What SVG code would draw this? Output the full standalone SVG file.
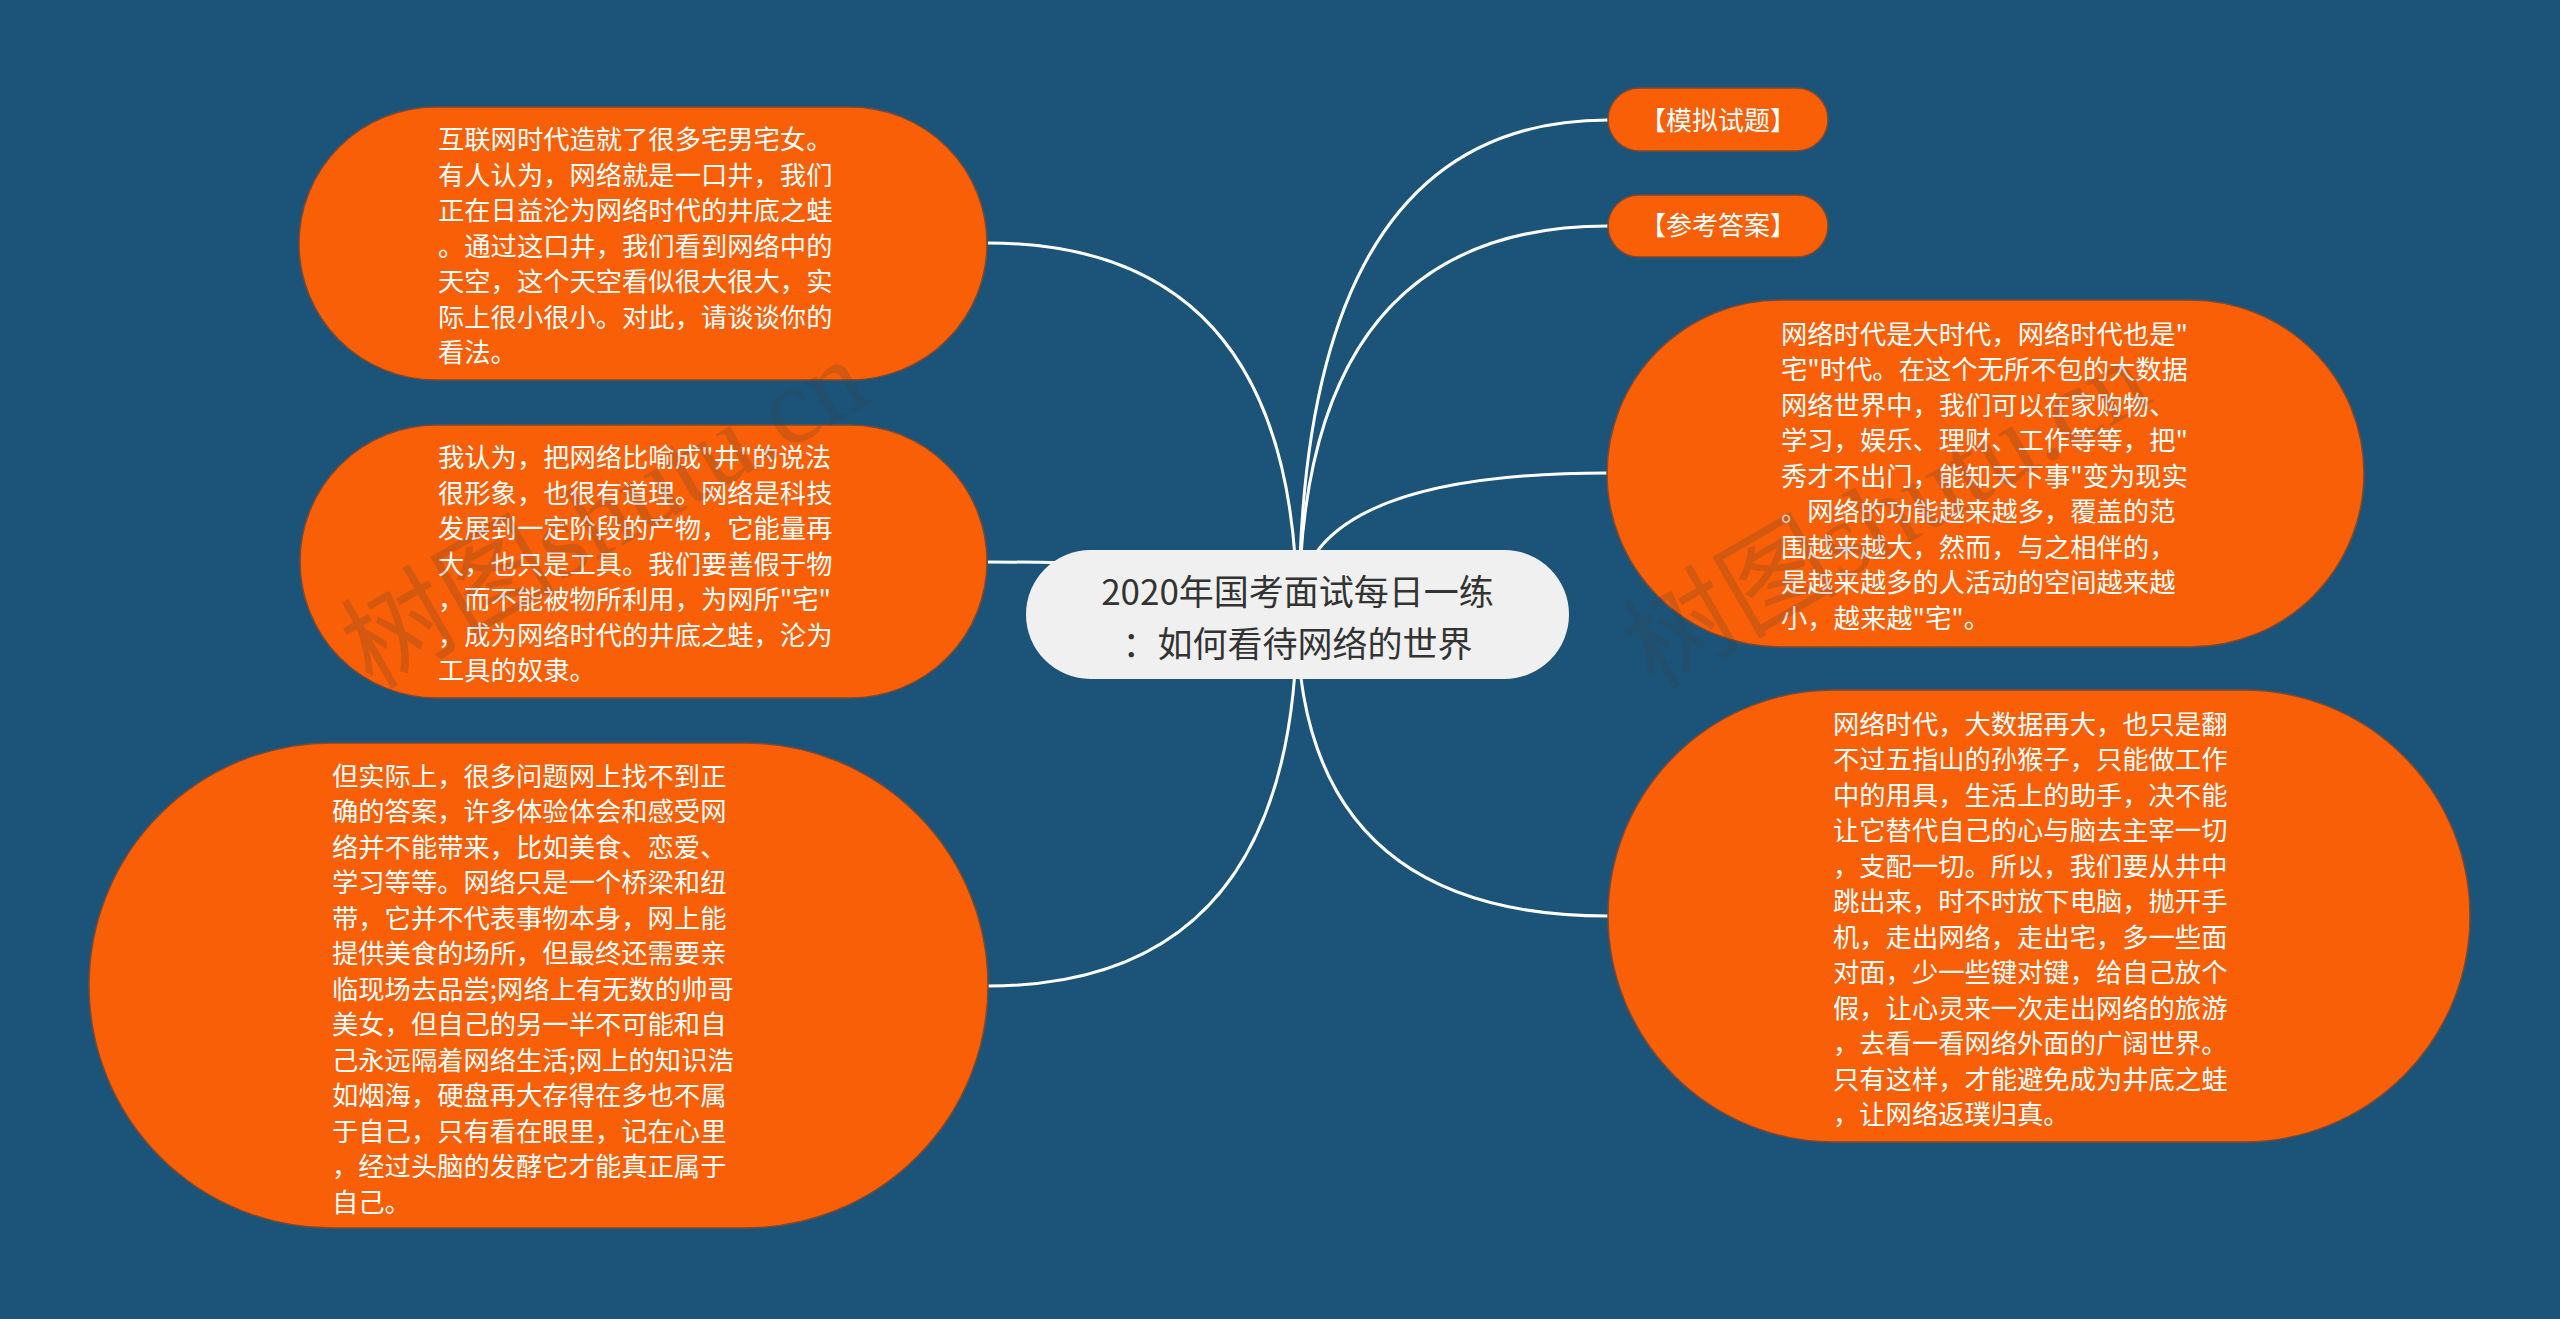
<svg xmlns="http://www.w3.org/2000/svg" width="2560" height="1319" viewBox="0 0 2560 1319">
<style>
.bg{fill:#1b5478}
.leaf{fill:#f95f06;stroke:#7a4a33;stroke-width:1.5}
.root{fill:#f0f0f0}
.conn{fill:none;stroke:#ffffff;stroke-width:3}
.t{font-family:"Noto Sans CJK SC","Noto Sans",sans-serif;font-size:26.3px;fill:#ffffff}
.ts{font-family:"Noto Sans CJK SC","Noto Sans",sans-serif;font-size:26px;fill:#ffffff;text-anchor:middle}
.tr{font-family:"Noto Sans CJK SC","Noto Sans",sans-serif;font-size:35px;fill:#333333;text-anchor:middle}
.wm{font-family:"Liberation Serif","Noto Sans CJK SC",serif;font-size:108px;fill:#3a3a3a;fill-opacity:0.2}
</style>
<rect class="bg" x="0" y="0" width="2560" height="1319"/>
<g id="connectors">
<path class="conn" d="M1297,614 Q1297,243 988,243"/>
<path class="conn" d="M1297,614 Q1297,562 988,562"/>
<path class="conn" d="M1297,614 Q1297,986 988,986"/>
<path class="conn" d="M1299,614 Q1299,120 1608,120"/>
<path class="conn" d="M1299,614 Q1299,226 1608,226"/>
<path class="conn" d="M1297,614 Q1297,473 1607,473"/>
<path class="conn" d="M1297,614 Q1297,916 1608,916"/>
</g>
<g id="node-root">
<rect class="root" x="1026" y="550" width="543" height="129" rx="64.5"/>
<text class="tr"><tspan x="1297.5" y="605">2020年国考面试每日一练</tspan><tspan x="1297.5" y="656.5">：如何看待网络的世界</tspan></text>
</g>
<g id="node-1">
<rect class="leaf" x="299" y="107" width="688" height="273" rx="136.5"/>
<text class="t"><tspan x="438" y="149">互联网时代造就了很多宅男宅女。</tspan><tspan x="438" y="184.5">有人认为，网络就是一口井，我们</tspan><tspan x="438" y="220">正在日益沦为网络时代的井底之蛙</tspan><tspan x="438" y="255.5">。通过这口井，我们看到网络中的</tspan><tspan x="438" y="291">天空，这个天空看似很大很大，实</tspan><tspan x="438" y="326.5">际上很小很小。对此，请谈谈你的</tspan><tspan x="438" y="362">看法。</tspan></text>
</g>
<g id="node-2">
<rect class="leaf" x="300" y="425" width="687" height="273" rx="136.5"/>
<text class="t"><tspan x="438" y="467">我认为，把网络比喻成"井"的说法</tspan><tspan x="438" y="502.5">很形象，也很有道理。网络是科技</tspan><tspan x="438" y="538">发展到一定阶段的产物，它能量再</tspan><tspan x="438" y="573.5">大，也只是工具。我们要善假于物</tspan><tspan x="438" y="609">，而不能被物所利用，为网所"宅"</tspan><tspan x="438" y="644.5">，成为网络时代的井底之蛙，沦为</tspan><tspan x="438" y="680">工具的奴隶。</tspan></text>
</g>
<g id="node-3">
<rect class="leaf" x="89" y="743" width="899" height="485" rx="242.5"/>
<text class="t"><tspan x="332" y="785.5">但实际上，很多问题网上找不到正</tspan><tspan x="332" y="821">确的答案，许多体验体会和感受网</tspan><tspan x="332" y="856.5">络并不能带来，比如美食、恋爱、</tspan><tspan x="332" y="892">学习等等。网络只是一个桥梁和纽</tspan><tspan x="332" y="927.5">带，它并不代表事物本身，网上能</tspan><tspan x="332" y="963">提供美食的场所，但最终还需要亲</tspan><tspan x="332" y="998.5">临现场去品尝;网络上有无数的帅哥</tspan><tspan x="332" y="1034">美女，但自己的另一半不可能和自</tspan><tspan x="332" y="1069.5">己永远隔着网络生活;网上的知识浩</tspan><tspan x="332" y="1105">如烟海，硬盘再大存得在多也不属</tspan><tspan x="332" y="1140.5">于自己，只有看在眼里，记在心里</tspan><tspan x="332" y="1176">，经过头脑的发酵它才能真正属于</tspan><tspan x="332" y="1211.5">自己。</tspan></text>
</g>
<g id="node-4">
<rect class="leaf" x="1608" y="88" width="220" height="63" rx="31.5"/>
<text class="ts" x="1718" y="129.5">【模拟试题】</text>
</g>
<g id="node-5">
<rect class="leaf" x="1608" y="195" width="220" height="62" rx="31"/>
<text class="ts" x="1718" y="235">【参考答案】</text>
</g>
<g id="node-6">
<rect class="leaf" x="1607" y="300" width="757" height="347" rx="173.5"/>
<text class="t"><tspan x="1781" y="343.5">网络时代是大时代，网络时代也是"</tspan><tspan x="1781" y="379">宅"时代。在这个无所不包的大数据</tspan><tspan x="1781" y="414.5">网络世界中，我们可以在家购物、</tspan><tspan x="1781" y="450">学习，娱乐、理财、工作等等，把"</tspan><tspan x="1781" y="485.5">秀才不出门，能知天下事"变为现实</tspan><tspan x="1781" y="521">。网络的功能越来越多，覆盖的范</tspan><tspan x="1781" y="556.5">围越来越大，然而，与之相伴的，</tspan><tspan x="1781" y="592">是越来越多的人活动的空间越来越</tspan><tspan x="1781" y="627.5">小，越来越"宅"。</tspan></text>
</g>
<g id="node-7">
<rect class="leaf" x="1608" y="690" width="862" height="452" rx="226"/>
<text class="t"><tspan x="1833" y="733.5">网络时代，大数据再大，也只是翻</tspan><tspan x="1833" y="769">不过五指山的孙猴子，只能做工作</tspan><tspan x="1833" y="804.5">中的用具，生活上的助手，决不能</tspan><tspan x="1833" y="840">让它替代自己的心与脑去主宰一切</tspan><tspan x="1833" y="875.5">，支配一切。所以，我们要从井中</tspan><tspan x="1833" y="911">跳出来，时不时放下电脑，抛开手</tspan><tspan x="1833" y="946.5">机，走出网络，走出宅，多一些面</tspan><tspan x="1833" y="982">对面，少一些键对键，给自己放个</tspan><tspan x="1833" y="1017.5">假，让心灵来一次走出网络的旅游</tspan><tspan x="1833" y="1053">，去看一看网络外面的广阔世界。</tspan><tspan x="1833" y="1088.5">只有这样，才能避免成为井底之蛙</tspan><tspan x="1833" y="1124">，让网络返璞归真。</tspan></text>
</g>
<text class="wm" transform="translate(372,690) rotate(-30)">树图shutu.cn</text>
<text class="wm" transform="translate(1654,690) rotate(-30)">树图shutu.cn</text>
</svg>
